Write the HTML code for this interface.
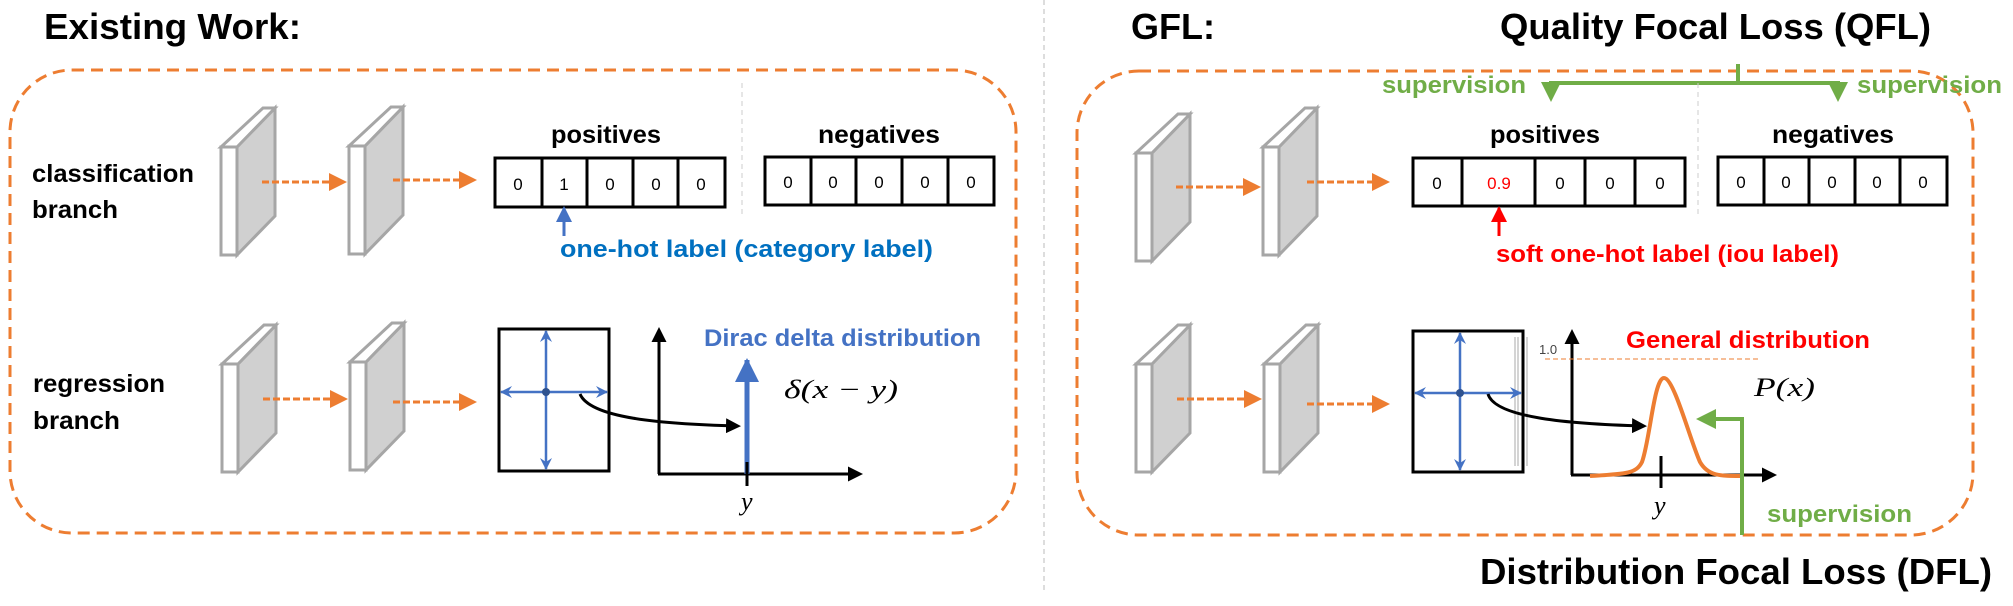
<!DOCTYPE html>
<html><head><meta charset="utf-8"><style>
html,body{margin:0;padding:0;background:#fff;}
svg{display:block;}
text{font-family:"Liberation Sans",sans-serif;}
.b{font-weight:bold;}
.m{font-family:"Liberation Serif",serif;font-style:italic;}
</style></head><body>
<svg width="2013" height="606" viewBox="0 0 2013 606" xmlns="http://www.w3.org/2000/svg">
<defs>
<marker id="ao" markerWidth="6" markerHeight="6" refX="5" refY="3" orient="auto" markerUnits="strokeWidth"><path d="M0,0 L6,3 L0,6 z" fill="#ED7D31"/></marker>
<marker id="ab" markerWidth="5" markerHeight="5" refX="4" refY="2.5" orient="auto" markerUnits="strokeWidth"><path d="M0,0 L5,2.5 L0,5 z" fill="#000"/></marker>
<marker id="abl" markerWidth="16" markerHeight="16" refX="14" refY="8" orient="auto" markerUnits="userSpaceOnUse"><path d="M0,0 L16,8 L0,16 z" fill="#4472C4"/></marker>
<marker id="abl2" markerWidth="24" markerHeight="24" refX="22" refY="12" orient="auto" markerUnits="userSpaceOnUse"><path d="M0,0 L24,12 L0,24 z" fill="#4472C4"/></marker>
<marker id="ag" markerWidth="5" markerHeight="5" refX="4" refY="2.5" orient="auto" markerUnits="strokeWidth"><path d="M0,0 L5,2.5 L0,5 z" fill="#70AD47"/></marker>
<marker id="ar" markerWidth="16" markerHeight="16" refX="14" refY="8" orient="auto" markerUnits="userSpaceOnUse"><path d="M0,0 L16,8 L0,16 z" fill="#FF0000"/></marker>
<marker id="bx" markerWidth="12" markerHeight="12" refX="11" refY="6" orient="auto" markerUnits="userSpaceOnUse"><path d="M0,0 L12,6 L0,12 L4,6 z" fill="#4472C4"/></marker>
<g id="slab" stroke="#A6A6A6" stroke-width="3" stroke-linejoin="miter">
<polygon points="16,0 54,-39 54,69 16,108" fill="#D0D0D0"/>
<polygon points="0,0 42,-39 54,-39 16,0" fill="#fff"/>
<rect x="0" y="0" width="16" height="108" fill="#fff"/>
</g>
</defs>

<line x1="1044" y1="0" x2="1044" y2="590" stroke="#bbb" stroke-width="1" stroke-dasharray="5,4"/>

<text x="44" y="39" class="b" font-size="36" textLength="257" lengthAdjust="spacingAndGlyphs">Existing Work:</text>
<text x="1131" y="39" class="b" font-size="36">GFL:</text>
<text x="1500" y="39" class="b" font-size="36" textLength="431" lengthAdjust="spacingAndGlyphs">Quality Focal Loss (QFL)</text>
<text x="1480" y="584" class="b" font-size="36" textLength="512" lengthAdjust="spacingAndGlyphs">Distribution Focal Loss (DFL)</text>

<rect x="10" y="70" width="1006" height="463" rx="62" ry="62" fill="none" stroke="#ED7D31" stroke-width="3" stroke-dasharray="12,7"/>
<rect x="1077" y="71" width="896" height="464" rx="62" ry="62" fill="none" stroke="#ED7D31" stroke-width="3" stroke-dasharray="12,7"/>

<text x="32" y="182" class="b" font-size="25" textLength="162" lengthAdjust="spacingAndGlyphs">classification</text>
<text x="32" y="218" class="b" font-size="25" textLength="86" lengthAdjust="spacingAndGlyphs">branch</text>
<text x="33" y="392" class="b" font-size="25" textLength="132" lengthAdjust="spacingAndGlyphs">regression</text>
<text x="33" y="429" class="b" font-size="25" textLength="87" lengthAdjust="spacingAndGlyphs">branch</text>

<use href="#slab" x="221" y="147"/>
<use href="#slab" x="349" y="146"/>
<use href="#slab" x="222" y="364"/>
<use href="#slab" x="350" y="362"/>
<use href="#slab" x="1136" y="153"/>
<use href="#slab" x="1263" y="147"/>
<use href="#slab" x="1136" y="364"/>
<use href="#slab" x="1264" y="364"/>

<g stroke="#ED7D31" stroke-width="3" stroke-dasharray="7,3" marker-end="url(#ao)">
<line x1="262" y1="182" x2="344" y2="182"/>
<line x1="393" y1="180" x2="474" y2="180"/>
<line x1="263" y1="399" x2="345" y2="399"/>
<line x1="393" y1="402" x2="474" y2="402"/>
<line x1="1176" y1="187" x2="1258" y2="187"/>
<line x1="1307" y1="182" x2="1387" y2="182"/>
<line x1="1177" y1="399" x2="1259" y2="399"/>
<line x1="1307" y1="404" x2="1387" y2="404"/>
</g>

<g font-size="17" text-anchor="middle">
<text x="606" y="143" class="b" font-size="25" textLength="110" lengthAdjust="spacingAndGlyphs">positives</text>
<rect x="495" y="158" width="230" height="49" fill="none" stroke="#000" stroke-width="3"/>
<path d="M542,158V207M587,158V207M633,158V207M678,158V207" stroke="#000" stroke-width="3"/>
<text x="518" y="190">0</text><text x="564" y="190">1</text><text x="610" y="190">0</text><text x="656" y="190">0</text><text x="701" y="190">0</text>
<text x="879" y="143" class="b" font-size="25" textLength="122" lengthAdjust="spacingAndGlyphs">negatives</text>
<rect x="765" y="157" width="229" height="48" fill="none" stroke="#000" stroke-width="3"/>
<path d="M811,157V205M856,157V205M902,157V205M948,157V205" stroke="#000" stroke-width="3"/>
<text x="788" y="188">0</text><text x="833" y="188">0</text><text x="879" y="188">0</text><text x="925" y="188">0</text><text x="971" y="188">0</text>
</g>
<line x1="742" y1="83" x2="742" y2="215" stroke="#ccc" stroke-width="1" stroke-dasharray="5,4"/>
<line x1="564" y1="236" x2="564" y2="208" stroke="#4472C4" stroke-width="3" marker-end="url(#abl)"/>
<text x="560" y="257" class="b" font-size="24" fill="#0070C0" textLength="373" lengthAdjust="spacingAndGlyphs">one-hot label (category label)</text>

<rect x="499" y="329" width="110" height="142" fill="none" stroke="#000" stroke-width="3"/>
<g stroke="#4472C4" stroke-width="2.5">
<line x1="546" y1="392" x2="501" y2="392" marker-end="url(#bx)"/>
<line x1="546" y1="392" x2="607" y2="392" marker-end="url(#bx)"/>
<line x1="546" y1="392" x2="546" y2="331" marker-end="url(#bx)"/>
<line x1="546" y1="392" x2="546" y2="469" marker-end="url(#bx)"/>
</g>
<circle cx="546" cy="392" r="4" fill="#2F528F"/>
<line x1="659" y1="474" x2="659" y2="330" stroke="#000" stroke-width="3" marker-end="url(#ab)"/>
<line x1="658" y1="474" x2="860" y2="474" stroke="#000" stroke-width="3" marker-end="url(#ab)"/>
<line x1="747" y1="474" x2="747" y2="360" stroke="#4472C4" stroke-width="5" marker-end="url(#abl2)"/>
<line x1="747" y1="462" x2="747" y2="486" stroke="#000" stroke-width="3"/>
<path d="M580,394 C590,418 660,424 738,426" fill="none" stroke="#000" stroke-width="3" marker-end="url(#ab)"/>
<text x="741" y="510" class="m" font-size="26">y</text>
<text x="704" y="346" class="b" font-size="24" fill="#4472C4" textLength="277" lengthAdjust="spacingAndGlyphs">Dirac delta distribution</text>
<text x="784" y="398" class="m" font-size="26" textLength="114" lengthAdjust="spacingAndGlyphs">δ(x − y)</text>

<g stroke="#70AD47" stroke-width="4" fill="none">
<line x1="1738" y1="64" x2="1738" y2="83"/>
<line x1="1549" y1="83" x2="1840" y2="83"/>
<line x1="1551" y1="81" x2="1551" y2="98" marker-end="url(#ag)"/>
<line x1="1838" y1="81" x2="1838" y2="98" marker-end="url(#ag)"/>
</g>
<text x="1382" y="93" class="b" font-size="24" fill="#70AD47" textLength="144" lengthAdjust="spacingAndGlyphs">supervision</text>
<text x="1857" y="93" class="b" font-size="24" fill="#70AD47" textLength="145" lengthAdjust="spacingAndGlyphs">supervision</text>

<g font-size="17" text-anchor="middle">
<text x="1545" y="143" class="b" font-size="25" textLength="110" lengthAdjust="spacingAndGlyphs">positives</text>
<rect x="1413" y="158" width="272" height="48" fill="none" stroke="#000" stroke-width="3"/>
<path d="M1462,158V206M1535,158V206M1585,158V206M1635,158V206" stroke="#000" stroke-width="3"/>
<text x="1437" y="189">0</text><text x="1499" y="189" fill="#FF0000">0.9</text><text x="1560" y="189">0</text><text x="1610" y="189">0</text><text x="1660" y="189">0</text>
<text x="1833" y="143" class="b" font-size="25" textLength="122" lengthAdjust="spacingAndGlyphs">negatives</text>
<rect x="1718" y="157" width="229" height="48" fill="none" stroke="#000" stroke-width="3"/>
<path d="M1764,157V205M1809,157V205M1855,157V205M1900,157V205" stroke="#000" stroke-width="3"/>
<text x="1741" y="188">0</text><text x="1786" y="188">0</text><text x="1832" y="188">0</text><text x="1877" y="188">0</text><text x="1923" y="188">0</text>
</g>
<line x1="1698" y1="83" x2="1698" y2="215" stroke="#ccc" stroke-width="1" stroke-dasharray="5,4"/>
<line x1="1499" y1="236" x2="1499" y2="208" stroke="#FF0000" stroke-width="3" marker-end="url(#ar)"/>
<text x="1496" y="262" class="b" font-size="24" fill="#FF0000" textLength="343" lengthAdjust="spacingAndGlyphs">soft one-hot label (iou label)</text>

<rect x="1413" y="331" width="110" height="141" fill="none" stroke="#000" stroke-width="3"/>
<path d="M1515,337V466M1518,337V466M1527,337V466" stroke="#aaa" stroke-width="1"/>
<g stroke="#4472C4" stroke-width="2.5">
<line x1="1460" y1="393" x2="1415" y2="393" marker-end="url(#bx)"/>
<line x1="1460" y1="393" x2="1521" y2="393" marker-end="url(#bx)"/>
<line x1="1460" y1="393" x2="1460" y2="333" marker-end="url(#bx)"/>
<line x1="1460" y1="393" x2="1460" y2="470" marker-end="url(#bx)"/>
</g>
<circle cx="1460" cy="393" r="4" fill="#2F528F"/>
<line x1="1572" y1="475" x2="1572" y2="332" stroke="#000" stroke-width="3" marker-end="url(#ab)"/>
<line x1="1571" y1="475" x2="1774" y2="475" stroke="#000" stroke-width="3" marker-end="url(#ab)"/>
<text x="1539" y="354" font-size="13" fill="#444">1.0</text>
<line x1="1545" y1="359" x2="1761" y2="359" stroke="#ED7D31" stroke-width="1" stroke-dasharray="5,3"/>
<text x="1626" y="348" class="b" font-size="24" fill="#FF0000" textLength="244" lengthAdjust="spacingAndGlyphs">General distribution</text>
<text x="1754" y="396" class="m" font-size="26" textLength="61" lengthAdjust="spacingAndGlyphs">P(x)</text>
<path d="M1590,476 C1625,474 1636,474 1642,462 C1650,440 1654,378 1664,378 C1674,378 1690,440 1700,462 C1708,476 1720,476 1741,476" fill="none" stroke="#ED7D31" stroke-width="4"/>
<line x1="1661" y1="456" x2="1661" y2="488" stroke="#000" stroke-width="3"/>
<text x="1654" y="514" class="m" font-size="26">y</text>
<path d="M1488,394 C1495,418 1570,424 1644,426" fill="none" stroke="#000" stroke-width="3" marker-end="url(#ab)"/>
<path d="M1742,535 V419 H1700" fill="none" stroke="#70AD47" stroke-width="4" marker-end="url(#ag)"/>
<text x="1767" y="522" class="b" font-size="24" fill="#70AD47" textLength="145" lengthAdjust="spacingAndGlyphs">supervision</text>
</svg>
</body></html>
